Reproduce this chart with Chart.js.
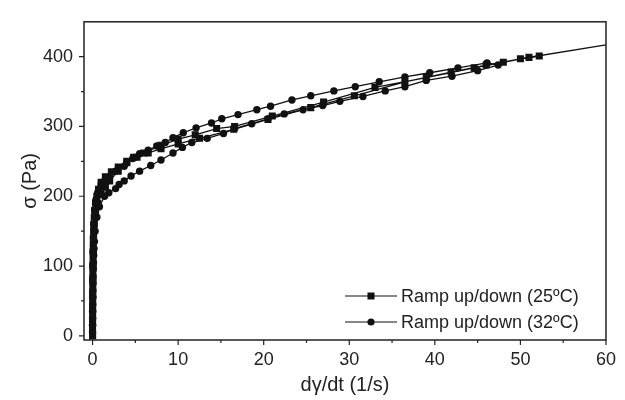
<!DOCTYPE html>
<html>
<head>
<meta charset="utf-8">
<script src="https://cdn.jsdelivr.net/npm/chart.js@4/dist/chart.umd.min.js"></script>
<style>
  html, body { margin: 0; padding: 0; background: #fff; }
  #wrap { width: 625px; height: 400px; }
</style>
</head>
<body>
<div id="wrap"><canvas id="c" width="625" height="400"></canvas></div>
<script>
// ---- Data ----
const seriesLabels = ['Ramp up/down (25ºC)', 'Ramp up/down (32ºC)'];

// 25 ºC (squares): ramp up then ramp down
const sq_x = [0, 0, 0, 0.01, 0.01, 0.02, 0.02, 0.03, 0.03, 0.04, 0.05, 0.06, 0.07, 0.08, 0.1, 0.12, 0.15, 0.2, 0.25, 0.35, 0.5, 0.7, 1.0, 1.5, 2.2, 3.0, 4.0, 5.2, 6.5, 8.0, 10, 12.5, 16.5, 20.5, 25.5, 30.6, 36.5, 41.9, 46, 50, 52.2,
              51, 48, 44.6, 39, 33, 27, 21, 16.6, 14.5, 12, 10, 8, 6, 4.8, 4, 3, 2, 1.5, 1, 0.6, 0.35, 0.2, 0.12, 0.07, 0.04, 0.02, 0.01, 0, 0, 0];
const sq_y = [0, 10, 20, 30, 40, 50, 60, 70, 80, 90, 100, 110, 120, 130, 140, 150, 160, 170, 180, 190, 200, 210, 220, 228, 235, 242, 250, 256, 262, 268, 275, 283, 296, 310, 327, 344, 364, 378, 388, 397, 401,
              399, 392, 384, 370, 356, 335, 315, 300, 297, 288, 282, 273, 262, 256, 248, 236, 222, 213, 203, 190, 175, 160, 140, 120, 100, 80, 60, 40, 20, 0];

// 32 ºC (circles): ramp up (lower branch) then ramp down (upper branch)
const ci_x = [0, 0, 0.01, 0.01, 0.02, 0.03, 0.04, 0.05, 0.06, 0.08, 0.1, 0.13, 0.17, 0.22, 0.3, 0.5, 0.8, 1.4, 1.9, 2.7, 3.1, 3.7, 4.5, 5.5, 6.8, 8, 9.4, 10.5, 11.6, 13.4, 15.3, 16.6, 18.6, 20.5, 22.4, 24.6, 26.9, 28.9, 31.6, 34.2, 36.5, 39, 42, 45, 47.4,
              46.1, 42.7, 39.4, 36.5, 33.5, 30.7, 28.2, 25.5, 23.3, 20.8, 19.2, 17, 15.1, 13.9, 12.1, 10.6, 9.4, 8.5, 7.5, 6.5, 5.5, 4.7, 3.7, 2.7, 2, 1.4, 1, 0.6, 0.4, 0.25, 0.15, 0.1, 0.06, 0.04, 0.02, 0.01, 0, 0];
const ci_y = [5, 15, 25, 35, 45, 55, 65, 75, 85, 95, 105, 115, 125, 135, 150, 170, 185, 200, 205, 211, 217, 222, 229, 236, 244, 252, 262, 270, 277, 283, 290, 297, 304, 311, 318, 324, 330, 336, 343, 351, 357, 366, 372, 380, 388,
              391, 384, 377, 371, 364, 357, 351, 344, 338, 329, 324, 317, 311, 305, 298, 291, 284, 277, 272, 266, 261, 254, 243, 236, 228, 222, 217, 205, 195, 180, 160, 140, 120, 100, 80, 55, 35, 15];

// straight extension line at high shear rate
const fit_x = [50, 60];
const fit_y = [397, 417];

// axis ticks
const xMajor = [0, 10, 20, 30, 40, 50, 60];
const xMinor = [5, 15, 25, 35, 45, 55];
const yMajor = [0, 100, 200, 300, 400];
const yMinor = [50, 150, 250, 350];

const pts = (xs, ys) => xs.map((x, i) => ({ x: x, y: ys[i] }));

const INK = '#111';
const TXT = '#222';
const FAM = '"Liberation Sans", Arial, sans-serif';

const tickPlugin = {
  id: 'framesAndTicks',
  afterDraw(chart) {
    const ctx = chart.ctx;
    const a = chart.chartArea;
    const xs = chart.scales.x, ys = chart.scales.y;
    ctx.save();
    ctx.strokeStyle = '#222';
    ctx.lineWidth = 1.5;
    ctx.strokeRect(a.left, a.top, a.right - a.left, a.bottom - a.top);
    ctx.lineWidth = 1.2;
    ctx.beginPath();
    xMajor.forEach(v => { const p = xs.getPixelForValue(v); ctx.moveTo(p, a.bottom); ctx.lineTo(p, a.bottom + 5); });
    xMinor.forEach(v => { const p = xs.getPixelForValue(v); ctx.moveTo(p, a.bottom); ctx.lineTo(p, a.bottom + 3); });
    yMajor.forEach(v => { const p = ys.getPixelForValue(v); ctx.moveTo(a.left, p); ctx.lineTo(a.left - 5, p); });
    yMinor.forEach(v => { const p = ys.getPixelForValue(v); ctx.moveTo(a.left, p); ctx.lineTo(a.left - 3, p); });
    ctx.stroke();

    // legend (inside plot, bottom right)
    const rows = [
      { label: seriesLabels[0], style: 'rect', y: 296 },
      { label: seriesLabels[1], style: 'circle', y: 322 }
    ];
    ctx.font = '18px ' + FAM;
    ctx.textBaseline = 'middle';
    ctx.textAlign = 'left';
    rows.forEach(r => {
      ctx.strokeStyle = INK; ctx.lineWidth = 1.2;
      ctx.beginPath(); ctx.moveTo(345, r.y); ctx.lineTo(397, r.y); ctx.stroke();
      ctx.fillStyle = INK;
      if (r.style === 'rect') { ctx.fillRect(371 - 3.5, r.y - 3.5, 7, 7); }
      else { ctx.beginPath(); ctx.arc(371, r.y, 3.6, 0, Math.PI * 2); ctx.fill(); }
      ctx.fillStyle = TXT;
      ctx.fillText(r.label, 401, r.y + 1);
    });
    ctx.restore();
  }
};

new Chart(document.getElementById('c'), {
  type: 'scatter',
  data: {
    datasets: [
      { label: seriesLabels[0], data: pts(sq_x, sq_y), showLine: true, borderColor: INK, backgroundColor: INK,
        borderWidth: 1.3, pointStyle: 'rect', pointRadius: 5, pointBorderWidth: 0, tension: 0 },
      { label: seriesLabels[1], data: pts(ci_x, ci_y), showLine: true, borderColor: INK, backgroundColor: INK,
        borderWidth: 1.3, pointStyle: 'circle', pointRadius: 3.7, pointBorderWidth: 0, tension: 0 },
      { label: 'fit', data: pts(fit_x, fit_y), showLine: true, borderColor: INK, borderWidth: 1.4, pointRadius: 0 }
    ]
  },
  options: {
    responsive: false,
    animation: false,
    events: [],
    layout: { padding: { top: 14, right: 13, left: 0, bottom: 0 } },
    plugins: { legend: { display: false }, tooltip: { enabled: false } },
    scales: {
      x: {
        type: 'linear', min: -1, max: 60,
        afterFit(s) { s.height = 60; },
        afterBuildTicks(s) { s.ticks = xMajor.map(v => ({ value: v })); },
        grid: { display: false, drawTicks: false },
        border: { display: false },
        ticks: { padding: 9, color: TXT, font: { family: FAM, size: 18 }, maxRotation: 0 },
        title: { display: true, text: 'dγ/dt (1/s)', color: TXT, padding: { bottom: 3, top: 0 },
                 font: { family: FAM, size: 20 } }
      },
      y: {
        type: 'linear', min: -6, max: 450,
        afterFit(s) { s.width = 84; },
        afterBuildTicks(s) { s.ticks = yMajor.map(v => ({ value: v })); },
        grid: { display: false, drawTicks: false },
        border: { display: false },
        ticks: { padding: 11, color: TXT, font: { family: FAM, size: 18 } },
        title: { display: true, text: 'σ (Pa)', color: TXT, padding: { top: 18, bottom: 0 },
                 font: { family: FAM, size: 20 } }
      }
    }
  },
  plugins: [tickPlugin]
});
</script>
</body>
</html>
